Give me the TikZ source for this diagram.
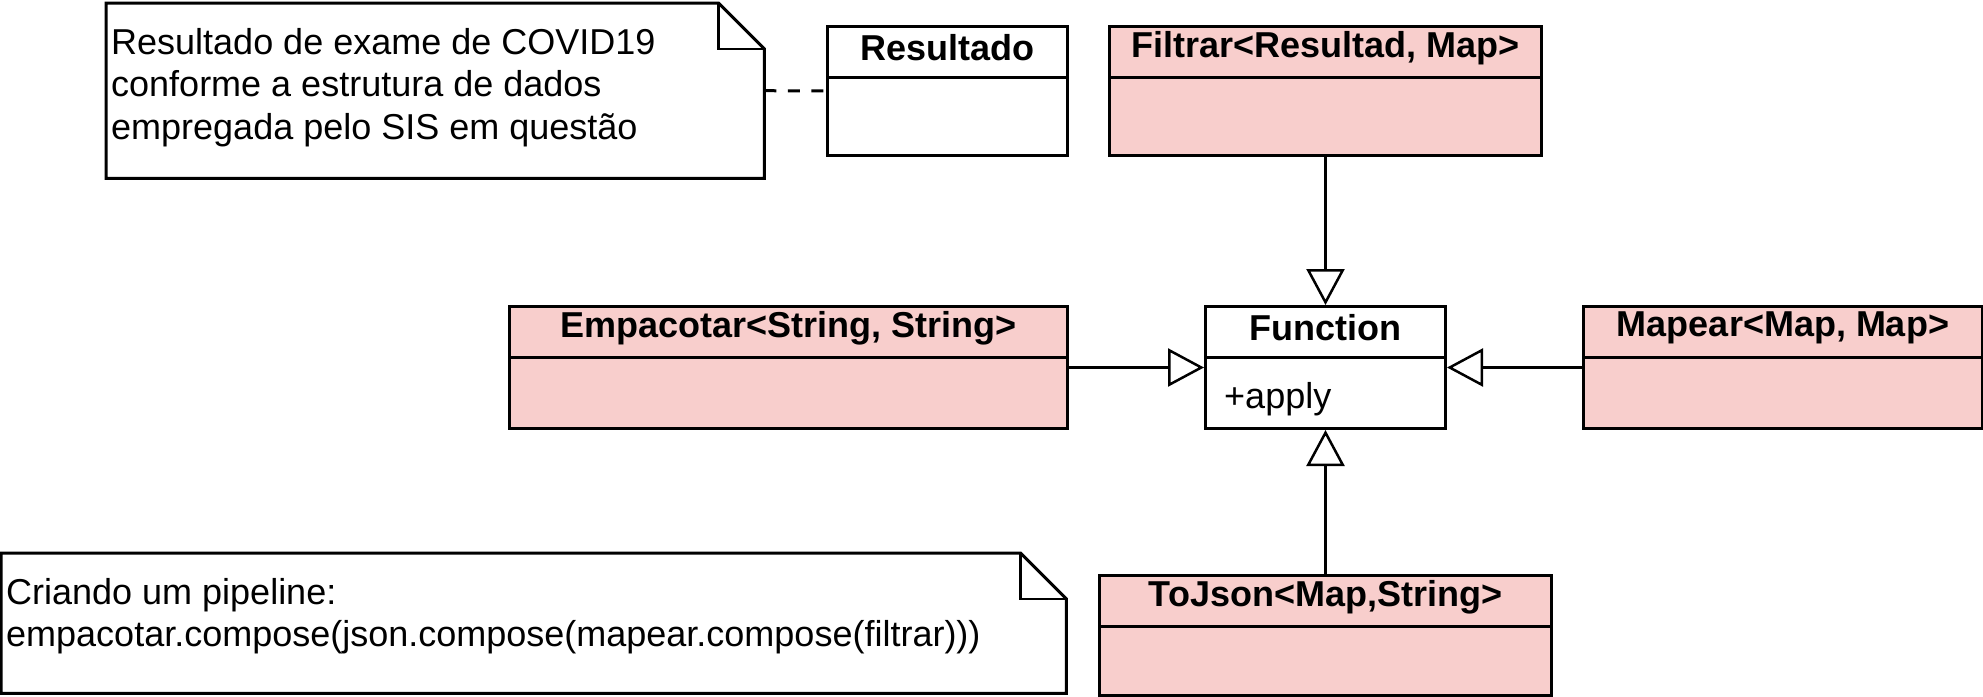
\documentclass[tikz,border=0pt]{standalone}
\usepackage{fontspec}
\setmainfont{Liberation Sans}
\usepackage{tikz}
\usetikzlibrary{arrows.meta}
\usetikzlibrary{calc}
\definecolor{classpink}{HTML}{F8CECC}
\newcommand{\diagramfont}{\fontsize{36}{42.5}\selectfont}
\tikzstyle{umlbox} = [style=draw, rectangle,
	line width=3pt,
	inner sep=0pt]
\tikzstyle{classtitle} = [font=\diagramfont\bfseries]
\tikzstyle{notebox} = [rectangle, inner sep=0pt, anchor=north west]
\tikzstyle{inherit} =[-{Triangle[length=36pt, width=38pt, fill=white, line width=2.5pt]}, line width=3pt]
\tikzstyle{notelink} =[line width=3pt, dash pattern=on 12pt off 11.5pt]
\newcommand{\umlclass}[4]{\node[umlbox,
	#2
	] (#1) {};
	\draw[line width=3pt] ([yshift=-52pt]#1.north west) -- ([yshift=-52pt]#1.north east);
	\node[classtitle] (#1-title) at ([yshift=-23pt]#1.north) {#3};
	\node[anchor=west, inner sep=0pt] (#1-body) at ([xshift=20pt, yshift=-32pt]#1.west) {#4}}
\newcommand{\drawnote}[5]{\node[notebox,
	minimum width=#3,
	minimum height=#4
	] (#1) at #2 {};
	\draw[line width=3pt] (#1.north west) -- ([xshift=-46pt]#1.north east) -- ([yshift=-46pt]#1.north east)
	-- (#1.south east) -- (#1.south west) -- cycle;
	\draw[line width=2.5pt] ([xshift=-46pt]#1.north east) -- ([xshift=-46pt, yshift=-46pt]#1.north east)
	-- ([yshift=-46pt]#1.north east);
	\node[anchor=north west, align=left, inner sep=0pt] (#1-text) at ([xshift=5pt, yshift=-25pt]#1.north west) {#5}}

\begin{document}
\begin{tikzpicture}[x=1pt, y=-1pt, font=\diagramfont]
			\useasboundingbox (0,0) rectangle (1983,696);
			
			\drawnote{note1}{(106,3)}{658pt}{175pt}{Resultado de exame de COVID19\\conforme a estrutura de dados\\empregada pelo SIS em questão};
			\drawnote{note2}{(1,553)}{1065pt}{140pt}{Criando um pipeline:\\empacotar.compose(json.compose(mapear.compose(filtrar)))};
			
			\umlclass{resultado}{minimum width=240pt, minimum height=129pt, anchor=north west, at={(826,25)}}{Resultado}{};
			\umlclass{filtrar}{fill=classpink, minimum width=432pt, minimum height=129pt, anchor=north west, at={(1108,25)}}{Filtrar<Resultad, Map>}{};
			\umlclass{function}{minimum width=240pt, minimum height=122pt, anchor=north west, at={(1204,305)}}{Function}{+apply};
			\umlclass{empacotar}{fill=classpink, minimum width=558pt, minimum height=122pt, anchor=north west, at={(508,305)}}{Empacotar<String, String>}{};
			\umlclass{mapear}{fill=classpink, minimum width=399pt, minimum height=122pt, anchor=north west, at={(1582,305)}}{Mapear<Map, Map>}{};
			\umlclass{tojson}{fill=classpink, minimum width=452pt, minimum height=120pt, anchor=north west, at={(1098,574)}}{ToJson<Map,String>}{};
			
			\draw [notelink] (note1.east) -- (resultado.west);
			\draw [inherit] (filtrar) -- (function);
			\draw [inherit] (empacotar) -- (function);
			\draw [inherit] (mapear) -- (function);
			\draw [inherit] (tojson) -- (function);
		\end{tikzpicture}
\end{document}
